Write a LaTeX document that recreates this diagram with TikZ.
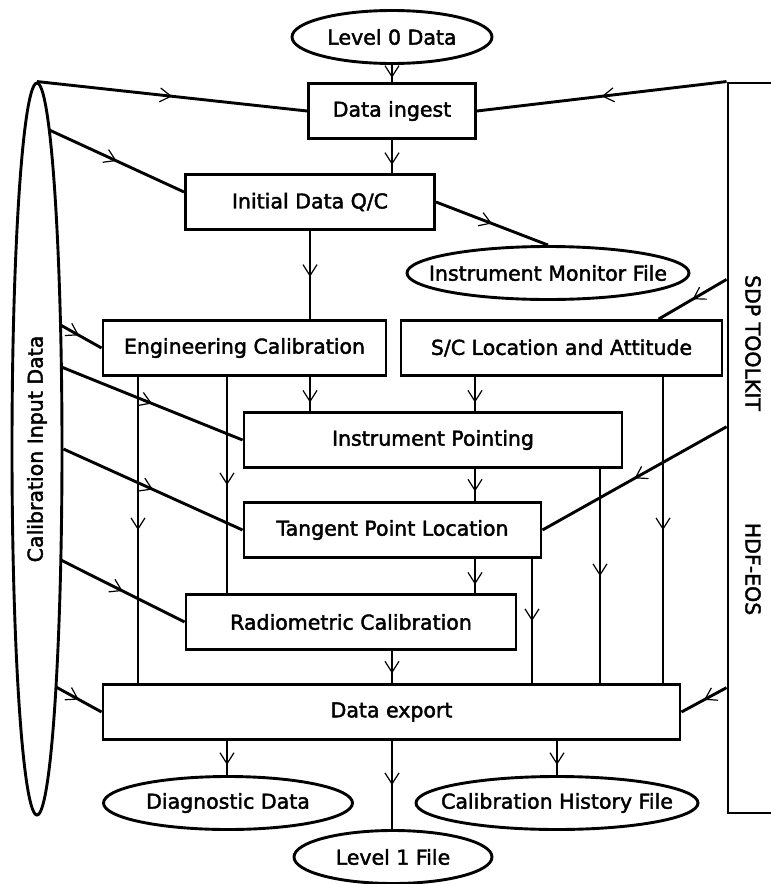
\documentclass[tikz,border=0pt]{standalone}
\usepackage{fontspec}
\setmainfont{DejaVu Sans}[FakeBold=2]
\usetikzlibrary{arrows.meta, calc, shapes.geometric, decorations.markings}

\tikzset{
  procbox/.style={draw, inner sep=0pt, minimum height=55pt},
  datafile/.style={draw, ellipse, inner sep=0pt, minimum height=53pt},
  flow/.style={postaction={decorate, decoration={markings,
      mark=at position #1 with {\arrow{Straight Barb[length=11pt, width=14pt, line width=1.2pt]}}}}},
  flow/.default=0.5
}

\begin{document}
\begin{tikzpicture}[x=1pt, y=-1pt, line width=2.9pt, font=\fontsize{20.5}{24}\selectfont]
  \clip (0,0) rectangle (771,884);

  % processing steps
  \foreach \n/\x/\y/\w/\t in
    {ingest/392/111/167/Data ingest, qc/310/202/249/{Initial Data Q/C},
     engcal/244.5/348/283/Engineering Calibration, scloc/561.5/348/321/{S/C Location and Attitude},
     pointing/433/440/378/Instrument Pointing, tangent/392.5/530/297/Tangent Point Location,
     radiom/351/622/330/Radiometric Calibration, export/391.5/712/577/Data export}
    \node[procbox, minimum width=\w] (\n) at (\x,\y) {\t};

  % files
  \foreach \n/\x/\y/\w/\t in
    {level0/392/37/200/Level 0 Data, monitor/548/273/282/Instrument Monitor File,
     diag/228/803/249/Diagnostic Data, history/557/803/282/Calibration History File,
     level1/393/857/198/Level 1 File}
    \node[datafile, minimum width=\w, label=center:\t] (\n) at (\x,\y) {};

  \node[datafile, minimum width=50, minimum height=732,
        label={[rotate=90]center:Calibration Input Data}] (calib) at (37,449) {};

  \node[draw, inner sep=0pt, minimum width=80, minimum height=730] (toolkit) at (768,448) {};
  \node[rotate=-90] (sdp) at (753,343) {SDP TOOLKIT};
  \node[rotate=-90] (hdf) at (753,569) {HDF-EOS};

  % columns of the vertical flows
  \foreach \c/\x in {c1/138, c2/227, c3/310, c4/392, c5/475, c6/532, c7/557, c8/600, c9/663}
    \coordinate (\c) at (\x,0);

  \foreach \c/\a/\b/\p in
    {c4/level0/ingest/0.75, c4/ingest/qc/0.75, c3/qc/engcal/0.52,
     c3/engcal/pointing/0.75, c5/scloc/pointing/0.75, c1/engcal/export/0.5,
     c2/engcal/radiom/0.5, c9/scloc/export/0.5, c5/pointing/tangent/0.7,
     c8/pointing/export/0.5, c5/tangent/radiom/0.75, c6/tangent/export/0.5,
     c4/radiom/export/0.7, c2/export/diag/0.7, c4/export/level1/0.5,
     c7/export/history/0.7}
    \draw[flow=\p] (\c |- \a.south) -- (\c |- \b.north);

  % calibration input
  \draw[flow] (calib.north) -- (ingest.west);
  \draw[flow] ($(calib.center)+(12.3,-319)$) -- ([yshift=10pt]qc.west);
  \draw[flow=0.45] ($(calib.center)+(23.5,-124)$) -- (engcal.west);
  \draw[flow] ($(calib.center)+(24.4,-82)$) -- (pointing.west);
  \draw[flow] (calib.east) -- (tangent.west);
  \draw[flow] ($(calib.center)+(23.8,111)$) -- (radiom.west);
  \draw[flow=0.5] ($(calib.center)+(19,238)$) -- (export.west);

  \draw[flow] (qc.east) -- (monitor.north);

  % toolkit
  \draw[flow] (toolkit.north west) -- (ingest.east);
  \draw[flow] ($(toolkit.north west)!0.27!(toolkit.south west)$) -- ($(scloc.north west)!0.8!(scloc.north east)$);
  \draw[flow] ($(toolkit.north west)!0.471!(toolkit.south west)$) -- (tangent.east);
  \draw[flow] ($(toolkit.north west)!0.827!(toolkit.south west)$) -- (export.east);
\end{tikzpicture}
\end{document}
